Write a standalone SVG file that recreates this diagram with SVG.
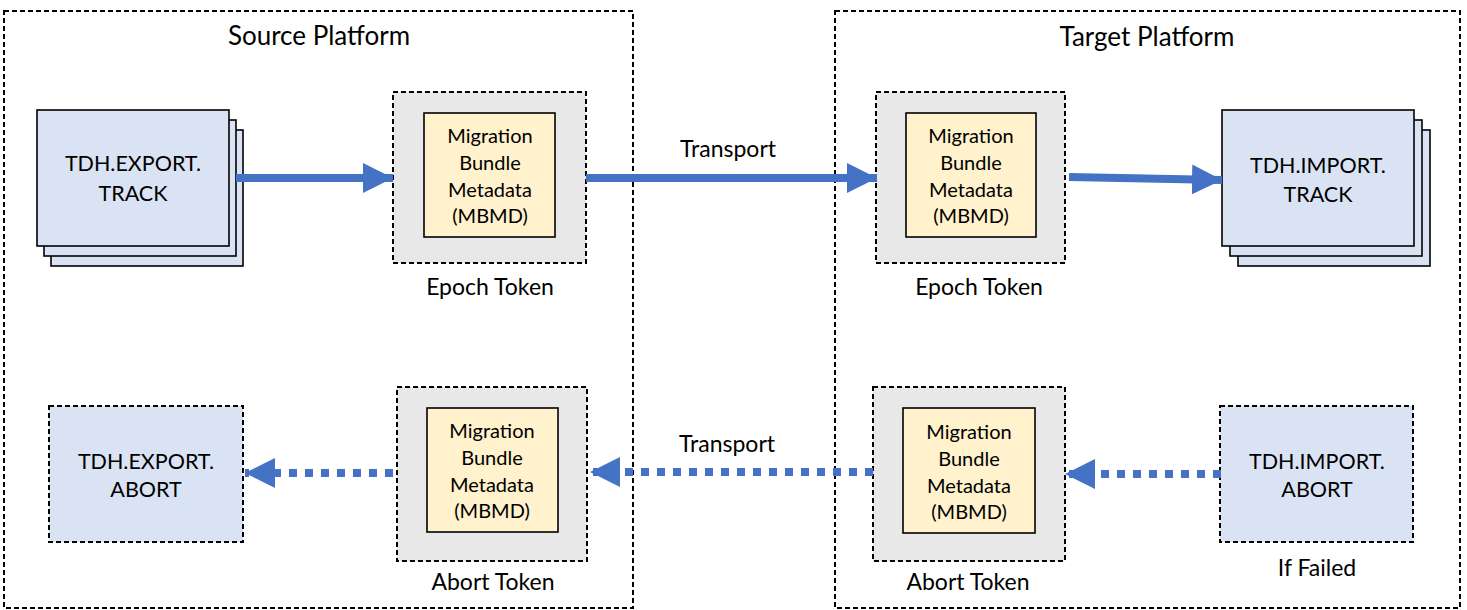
<svg xmlns="http://www.w3.org/2000/svg" width="1467" height="610" viewBox="0 0 1467 610">
<style>
text{font-family:Lato,"Liberation Sans",sans-serif;fill:#000;text-anchor:middle}
.cont{fill:none;stroke:#000;stroke-width:1.3;stroke-dasharray:5 3;shape-rendering:crispEdges}
.tok{fill:#E8E8E8;stroke:#000;stroke-width:1.3;stroke-dasharray:5 3;shape-rendering:crispEdges}
.mb{fill:#FFF2CC;stroke:#000;stroke-width:1.6}
.pg{fill:#DAE3F3;stroke:#000;stroke-width:1.6}
.abt{fill:#DAE3F3;stroke:#000;stroke-width:1.3;stroke-dasharray:5 3;shape-rendering:crispEdges}
.t26{font-size:26px}.t23{font-size:23px}.t21{font-size:21.5px}.t18{font-size:20px}
.sol{stroke:#4472C4;stroke-width:8;fill:none}
.dot{stroke:#4472C4;stroke-width:8;fill:none;stroke-dasharray:8 8}
</style>
<defs>
<marker id="ah" viewBox="0 0 30 30" refX="30" refY="15" markerWidth="30" markerHeight="30" markerUnits="userSpaceOnUse" orient="auto">
<path d="M0,0 L30,15 L0,30 z" fill="#4472C4"/>
</marker>
</defs>
<g id="source-platform">
<rect class="cont" x="4" y="11" width="629" height="597"/>
<text class="t26" x="319" y="45">Source Platform</text>
</g>
<g id="target-platform">
<rect class="cont" x="835" y="11" width="625" height="597"/>
<text class="t26" x="1147" y="46">Target Platform</text>
</g>
<g id="export-track">
<rect class="pg" x="51" y="130" width="192" height="136"/>
<rect class="pg" x="44" y="120" width="192" height="136"/>
<rect class="pg" x="37" y="110" width="192" height="136"/>
<text class="t21" x="133" y="171">TDH.EXPORT.</text>
<text class="t21" x="133" y="201">TRACK</text>
</g>
<g id="src-epoch">
<rect class="tok" x="393" y="92" width="193" height="171"/>
<rect class="mb" x="424" y="113" width="131" height="124"/>
<text class="t18" x="490" y="143">Migration</text>
<text class="t18" x="490" y="170">Bundle</text>
<text class="t18" x="490" y="197">Metadata</text>
<text class="t18" x="490" y="223">(MBMD)</text>
<text class="t23" x="490" y="295">Epoch Token</text>
</g>
<g id="tgt-epoch">
<rect class="tok" x="876" y="92" width="189" height="171"/>
<rect class="mb" x="906" y="113" width="130" height="124"/>
<text class="t18" x="971" y="143">Migration</text>
<text class="t18" x="971" y="170">Bundle</text>
<text class="t18" x="971" y="197">Metadata</text>
<text class="t18" x="971" y="223">(MBMD)</text>
<text class="t23" x="979" y="295">Epoch Token</text>
</g>
<g id="import-track">
<rect class="pg" x="1238" y="130" width="192" height="136"/>
<rect class="pg" x="1230" y="120" width="192" height="136"/>
<rect class="pg" x="1222" y="110" width="192" height="136"/>
<text class="t21" x="1318" y="173">TDH.IMPORT.</text>
<text class="t21" x="1318" y="202">TRACK</text>
</g>
<g id="export-abort">
<rect class="abt" x="49" y="406" width="194" height="136"/>
<text class="t21" x="146" y="469">TDH.EXPORT.</text>
<text class="t21" x="146" y="497">ABORT</text>
</g>
<g id="src-abort">
<rect class="tok" x="397" y="387" width="190" height="174"/>
<rect class="mb" x="427" y="408" width="131" height="124"/>
<text class="t18" x="492" y="438">Migration</text>
<text class="t18" x="492" y="465">Bundle</text>
<text class="t18" x="492" y="492">Metadata</text>
<text class="t18" x="492" y="518">(MBMD)</text>
<text class="t23" x="493" y="590">Abort Token</text>
</g>
<g id="tgt-abort">
<rect class="tok" x="873" y="387" width="192" height="174"/>
<rect class="mb" x="903" y="408" width="132" height="125"/>
<text class="t18" x="969" y="439">Migration</text>
<text class="t18" x="969" y="466">Bundle</text>
<text class="t18" x="969" y="493">Metadata</text>
<text class="t18" x="969" y="519">(MBMD)</text>
<text class="t23" x="968" y="590">Abort Token</text>
</g>
<g id="import-abort">
<rect class="abt" x="1220" y="406" width="193" height="136"/>
<text class="t21" x="1317" y="469">TDH.IMPORT.</text>
<text class="t21" x="1317" y="497">ABORT</text>
<text class="t23" x="1317" y="576">If Failed</text>
</g>
<g id="connectors">
<line class="sol" x1="236" y1="178" x2="393" y2="178" marker-end="url(#ah)"/>
<line class="sol" x1="586" y1="178" x2="877" y2="178" marker-end="url(#ah)"/>
<text class="t23" x="728" y="157">Transport</text>
<line class="sol" x1="1069" y1="177" x2="1222" y2="180" marker-end="url(#ah)"/>
<line class="dot" x1="393" y1="473" x2="245" y2="473" marker-end="url(#ah)"/>
<line class="dot" x1="873" y1="472" x2="590" y2="472" marker-end="url(#ah)"/>
<text class="t23" x="727" y="452">Transport</text>
<line class="dot" x1="1221" y1="474" x2="1065" y2="474" marker-end="url(#ah)"/>
</g>
</svg>
